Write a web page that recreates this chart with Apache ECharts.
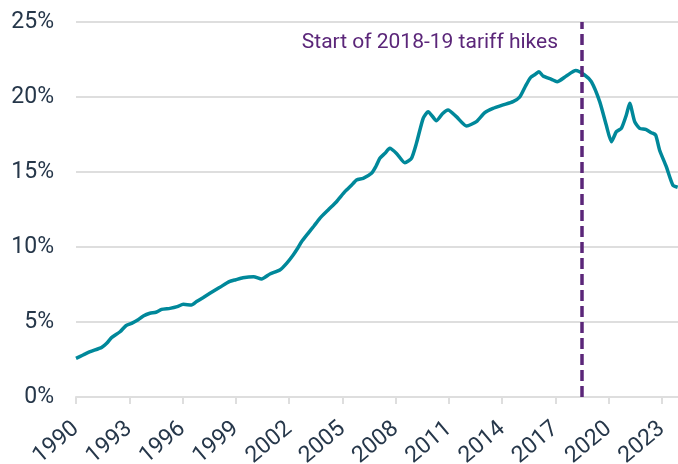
<!DOCTYPE html>
<html>
<head>
<meta charset="utf-8">
<script src="https://cdn.jsdelivr.net/npm/echarts@6/dist/echarts.min.js"></script>
<style>
  html, body { margin: 0; padding: 0; background: #fff; }
  #chart { width: 678px; height: 464px; }
</style>
</head>
<body>
<div id="chart"></div>
<script>
// decimal years and share (%)
const years = [
  1990.0, 1990.4, 1990.8, 1991.45, 1991.73, 1992.0, 1992.48, 1992.81, 1993.13, 1993.5,
  1993.79, 1994.16, 1994.5, 1994.82, 1995.29, 1995.7, 1996.04, 1996.5, 1996.79, 1997.15,
  1997.54, 1998.1, 1998.63, 1999.0, 1999.4, 2000.0, 2000.45, 2000.92, 2001.48, 2001.86,
  2002.23, 2002.5, 2002.7, 2003.07, 2003.4, 2003.73, 2004.2, 2004.67, 2005.14, 2005.5,
  2005.8, 2006.17, 2006.64, 2006.9, 2007.11, 2007.4, 2007.67, 2008.05, 2008.52, 2008.89,
  2009.17, 2009.55, 2009.83, 2010.3, 2010.65, 2010.95, 2011.42, 2011.99, 2012.55, 2013.02,
  2013.48, 2014.05, 2014.61, 2014.99, 2015.3, 2015.6, 2015.85, 2016.07, 2016.3, 2016.77,
  2017.09, 2017.61, 2018.14, 2018.64, 2019.02, 2019.49, 2019.86, 2020.15, 2020.43, 2020.71,
  2020.99, 2021.18, 2021.46, 2021.74, 2022.08, 2022.4, 2022.64, 2022.86, 2023.24, 2023.61,
  2023.88
];
const share = [
  2.58, 2.8, 3.02, 3.31, 3.58, 3.96, 4.35, 4.75, 4.91, 5.15,
  5.4, 5.58, 5.65, 5.84, 5.91, 6.02, 6.18, 6.13, 6.36, 6.62,
  6.91, 7.31, 7.69, 7.82, 7.95, 8.02, 7.87, 8.2, 8.47, 8.91,
  9.47, 9.95, 10.35, 10.91, 11.4, 11.91, 12.47, 13.02, 13.69, 14.1,
  14.47, 14.58, 14.91, 15.4, 15.91, 16.25, 16.58, 16.24, 15.62, 15.91,
  16.91, 18.58, 19.02, 18.42, 18.9, 19.13, 18.69, 18.07, 18.36, 18.96,
  19.24, 19.47, 19.69, 20.0, 20.7, 21.3, 21.5, 21.69, 21.4, 21.18,
  21.02, 21.4, 21.76, 21.47, 21.02, 19.69, 18.13, 17.02, 17.69, 17.91,
  18.8, 19.58, 18.36, 17.91, 17.84, 17.62, 17.47, 16.47, 15.36, 14.13,
  13.98
];
const tariffStart = 2018.5;
const tariffLabel = "Start of 2018-19 tariff hikes";

const textColor = "#26374a";
const gridColor = "#dedede";

const myChart = echarts.init(document.getElementById("chart"));
const option = {
  animation: false,
  textStyle: { fontFamily: "Roboto" },
  grid: { left: 76, right: 0, top: 22, bottom: 67, containLabel: false, outerBoundsMode: "none" },
  xAxis: {
    type: "value",
    min: 1990,
    max: 2023.9,
    interval: 3,
    axisLine: { show: true, lineStyle: { color: gridColor, width: 2 } },
    axisTick: { show: true, length: 7, lineStyle: { color: gridColor, width: 2 } },
    splitLine: { show: false },
    axisLabel: {
      rotate: 40,
      margin: 29,
      color: textColor,
      fontSize: 23,
      showMaxLabel: false,
      formatter: v => String(v)
    }
  },
  yAxis: {
    type: "value",
    min: 0,
    max: 25,
    interval: 5,
    axisLine: { show: false },
    axisTick: { show: false },
    splitLine: { lineStyle: { color: gridColor, width: 2 } },
    axisLabel: { color: textColor, fontSize: 23, margin: 22, formatter: "{value}%" }
  },
  series: [
    {
      type: "line",
      data: years.map((y, i) => [y, share[i]]),
      showSymbol: false,
      smooth: 0.2,
      lineStyle: { color: "#00889a", width: 3.5 },
      markLine: {
        silent: true,
        symbol: "none",
        label: { show: false },
        lineStyle: { color: "#5b2679", width: 3.5, type: [11, 5] },
        data: [{ xAxis: tariffStart }]
      }
    }
  ],
  graphic: [
    {
      type: "text",
      right: 678 - 558,
      top: 32,
      style: { text: tariffLabel, fill: "#5b2679", fontSize: 21, fontFamily: "Roboto" }
    }
  ]
};
myChart.setOption(option);
</script>
</body>
</html>
